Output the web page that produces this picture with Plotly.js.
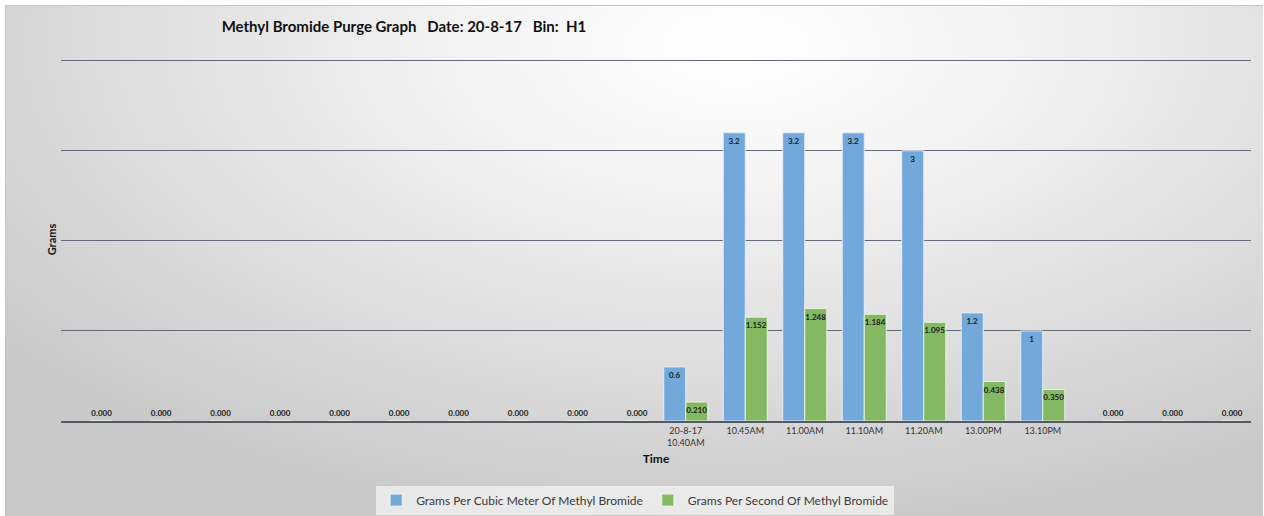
<!DOCTYPE html>
<html>
<head>
<meta charset="utf-8">
<script src="https://cdn.plot.ly/plotly-3.0.1.min.js"></script>
<style>
html,body{margin:0;padding:0;background:#ffffff;}
#frame{position:absolute;left:5px;top:5px;width:1257px;height:511px;
  background:radial-gradient(ellipse 75% 95% at 58% 8%, #ffffff 0%, #f3f3f3 30%, #dedede 65%, #c9c9c9 100%);
  border-left:1px solid #c4c4c4;border-top:1px solid #c4c4c4;}
#chart{position:absolute;left:0;top:0;width:1264px;height:516px;}
</style>
</head>
<body>
<div id="frame"></div>
<div id="chart"></div>
<script>
const categories = ["", "", "", "", "", "", "", "", "", "",
  "20-8-17<br>10.40AM", "10.45AM", "11.00AM", "11.10AM", "11.20AM", "13.00PM", "13.10PM",
  "", "", ""];
const gramsPerCubicMeter = [null, null, null, null, null, null, null, null, null, null,
  0.6, 3.2, 3.2, 3.2, 3, 1.2, 1, null, null, null];
const gramsPerSecond = [0, 0, 0, 0, 0, 0, 0, 0, 0, 0,
  0.210, 1.152, 1.248, 1.184, 1.095, 0.438, 0.350, 0, 0, 0];
const seriesNames = ["Grams Per Cubic Meter Of Methyl Bromide", "Grams Per Second Of Methyl Bromide"];

const xs = categories.map((c, i) => i);
const font = "Lato, 'Open Sans', sans-serif";

const blue = {
  type: "bar", name: seriesNames[0], x: xs, y: gramsPerCubicMeter,
  marker: {color: "#72a8da", line: {color: "rgba(235,242,250,0.9)", width: 1}},
  text: gramsPerCubicMeter.map(v => v === null ? "" : String(v)),
  textposition: "inside", insidetextanchor: "end", constraintext: "none", textangle: 0,
  textfont: {family: font, size: 8, color: "#1a1a1a", weight: "bold"},
  cliponaxis: false, hoverinfo: "x+y"
};
const green = {
  type: "bar", name: seriesNames[1], x: xs, y: gramsPerSecond,
  marker: {color: "#84b862", line: {color: "rgba(235,245,230,0.9)", width: 1}},
  text: gramsPerSecond.map(v => v.toFixed(3)),
  textposition: gramsPerSecond.map(v => v === 0 ? "outside" : "inside"),
  insidetextanchor: "end", constraintext: "none", textangle: 0,
  textfont: {family: font, size: 8, color: "#1a1a1a", weight: "bold"},
  cliponaxis: false, hoverinfo: "x+y"
};

const layout = {
  width: 1264, height: 516,
  paper_bgcolor: "rgba(0,0,0,0)", plot_bgcolor: "rgba(0,0,0,0)",
  margin: {l: 61, r: 13, t: 58.3, b: 95, autoexpand: false},
  font: {family: font, color: "#333333"},
  title: {text: "<b>Methyl Bromide Purge Graph\u00a0\u00a0\u00a0Date: 20-8-17\u00a0\u00a0\u00a0Bin:\u00a0\u00a0H1</b>",
    x: 0.135, xanchor: "left", xref: "paper", y: 0.948, yanchor: "middle",
    font: {family: font, size: 15, color: "#111111"}},
  barmode: "group", bargap: 0.26, bargroupgap: 0,
  showlegend: true,
  legend: {orientation: "h", x: 0.4825, xanchor: "center", y: -0.178, yanchor: "top",
    bgcolor: "rgba(238,238,238,0.85)", font: {family: font, size: 12, color: "#3a3a3a"},
    itemwidth: 30, tracegroupgap: 0},
  xaxis: {
    tickmode: "array", tickvals: xs, ticktext: categories, automargin: false,
    range: [-0.5, categories.length - 0.5],
    showgrid: false, zeroline: false, showline: true, linecolor: "#555b66", linewidth: 2,
    ticks: "", tickfont: {family: font, size: 9, color: "#333333"},
    title: {text: "<b>Time</b>", font: {family: font, size: 12, color: "#111111"}, standoff: 8}
  },
  yaxis: {
    range: [0, 4.03], tickvals: [0, 1, 2, 3, 4], showticklabels: false, automargin: false,
    showgrid: true, gridcolor: "#646b78", gridwidth: 1, zeroline: false,
    title: {text: "<b>Grams</b>", font: {family: font, size: 11, color: "#111111"}, standoff: 1}
  }
};

Plotly.newPlot("chart", [blue, green], layout, {displayModeBar: false, staticPlot: true});
</script>
</body>
</html>
